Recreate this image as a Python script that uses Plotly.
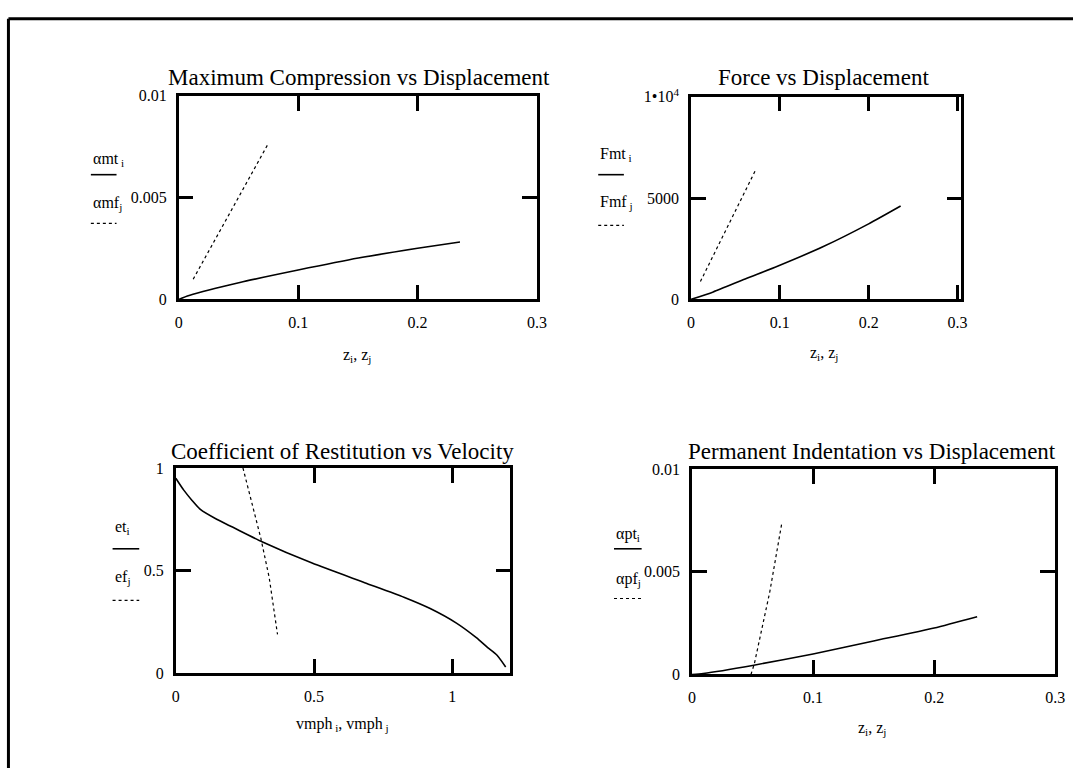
import plotly.graph_objects as go

W, H = 1083, 777

# ---- data ----
# Panel 1: Maximum Compression vs Displacement
amt_z = [0, 0.0087, 0.0512, 0.1, 0.1504, 0.2, 0.2355]
amt_v = [0, 0.00019, 0.00083, 0.00144, 0.00203, 0.00251, 0.00282]
amf_z = [0.0121, 0.0745]
amf_v = [0.00099, 0.0076]

# Panel 2: Force vs Displacement
fmt_z = [0, 0.025, 0.061, 0.098, 0.149, 0.2, 0.236]
fmt_v = [0, 370, 1008, 1648, 2608, 3728, 4608]
fmf_z = [0.0106, 0.0722]
fmf_v = [880, 6337]

# Panel 3: Coefficient of Restitution vs Velocity
et_v = [0, 0.005, 0.029, 0.059, 0.089, 0.148, 0.207, 0.314, 0.493, 0.683, 0.825, 0.92, 1.015, 1.087, 1.128, 1.161, 1.193]
et_e = [0.95, 0.94, 0.892, 0.842, 0.798, 0.75, 0.711, 0.64, 0.537, 0.442, 0.371, 0.316, 0.245, 0.174, 0.126, 0.09, 0.032]
ef_v = [0.243, 0.279, 0.308, 0.338, 0.368]
ef_e = [1.0, 0.814, 0.656, 0.466, 0.19]

# Panel 4: Permanent Indentation vs Displacement
apt_z = [0, 0.0093, 0.05, 0.1, 0.15, 0.2, 0.2355]
apt_v = [0, 0.00005, 0.00044, 0.001, 0.00163, 0.00226, 0.00281]
apf_z = [0.0487, 0.0515, 0.0642, 0.074]
apf_v = [0, 0.00052, 0.004, 0.0073]

titles = ["Maximum Compression vs Displacement", "Force vs Displacement",
          "Coefficient of Restitution vs Velocity", "Permanent Indentation vs Displacement"]

FONT = "Liberation Serif"


def px(x):
    return x / W


def py(y):
    return 1 - y / H


fig = go.Figure()

panels = [
    # (axis suffix, box in pixels [left, right, top, bottom])
    ("", (177, 540, 87, 296)),
    ("2", (696, 970, 88, 296)),
    ("3", (174, 513, 469, 680)),
    ("4", (697, 1065, 470, 681)),
]

series = [
    (amt_z, amt_v, amf_z, amf_v),
    (fmt_z, fmt_v, fmf_z, fmf_v),
    (et_v, et_e, ef_v, ef_e),
    (apt_z, apt_v, apf_z, apf_v),
]

for (sid, _), (x1, y1, x2, y2) in zip(panels, series):
    fig.add_trace(go.Scatter(x=x1, y=y1, mode="lines", xaxis="x" + sid, yaxis="y" + sid,
                             line=dict(color="black", width=1.6, shape="spline", smoothing=0.6),
                             showlegend=False))
    fig.add_trace(go.Scatter(x=x2, y=y2, mode="lines", xaxis="x" + sid, yaxis="y" + sid,
                             line=dict(color="black", width=1.2, dash="dot"), showlegend=False))

xranges = [[0, 0.3], [0, 0.3045], [0, 1.21], [0, 0.3]]
xticks = [[0, 0.1, 0.2, 0.3], [0, 0.1, 0.2, 0.3], [0, 0.5, 1], [0, 0.1, 0.2, 0.3]]
xtext = [["0", "0.1", "0.2", "0.3"], ["0", "0.1", "0.2", "0.3"], ["0", "0.5", "1"], ["0", "0.1", "0.2", "0.3"]]
yranges = [[0, 0.01], [0, 10000], [0, 1], [0, 0.01]]
yticks = [[0, 0.005, 0.01], [0, 5000, 10000], [0, 0.5, 1], [0, 0.005, 0.01]]
ytext = [["0", "0.005", "0.01"], ["0", "5000", "1\u202210<sup>4</sup>"], ["0", "0.5", "1"], ["0", "0.005", "0.01"]]

axcommon = dict(showline=True, linecolor="black", linewidth=2.5, mirror="ticks",
                ticks="inside", ticklen=15, tickwidth=2.5, tickcolor="black",
                showgrid=False, zeroline=False, fixedrange=True,
                tickfont=dict(family=FONT, size=16, color="black"))

layout = {}
for k, (sid, (l, r, t, b)) in enumerate(panels):
    layout["xaxis" + sid] = dict(domain=[px(l), px(r)], range=xranges[k], anchor="y" + sid,
                                 tickmode="array", tickvals=xticks[k], ticktext=xtext[k],
                                 ticklabelstandoff=7, **axcommon)
    layout["yaxis" + sid] = dict(domain=[py(b), py(t)], range=yranges[k], anchor="x" + sid,
                                 tickmode="array", tickvals=yticks[k], ticktext=ytext[k],
                                 ticklabelstandoff=6, **axcommon)

fig.update_layout(**layout)

ann = []
# titles
title_pos = [(360, 68), (830, 68), (343, 452), (879, 452)]
for t, (x, y) in zip(titles, title_pos):
    ann.append(dict(text=t, x=px(x), y=py(y), xref="paper", yref="paper", showarrow=False,
                    xanchor="center", yanchor="middle", font=dict(family=FONT, size=23, color="black")))

# x-axis titles
xlab = [("z<sub>i</sub>, z<sub>j</sub>", 358, 354),
        ("z<sub>i</sub>, z<sub>j</sub>", 831, 352),
        ("vmph<sub> i</sub>, vmph<sub> j</sub>", 343, 732),
        ("z<sub>i</sub>, z<sub>j</sub>", 879, 736)]
for t, x, y in xlab:
    ann.append(dict(text=t, x=px(x), y=py(y), xref="paper", yref="paper", showarrow=False,
                    xanchor="center", yanchor="middle", font=dict(family=FONT, size=16, color="black")))

# y-axis stacked labels with line-style keys
ylab = [
    ("\u03b1mt<sub> i</sub>", "\u03b1mf<sub>j</sub>", 88, 152, 198, 168, 218, 114),
    ("Fmt<sub> i</sub>", "Fmf<sub> j</sub>", 602, 147, 197, 168, 220, 628),
    ("et<sub>i</sub>", "ef<sub>j</sub>", 110, 530, 581, 552, 605, 137),
    ("\u03b1pt<sub>i</sub>", "\u03b1pf<sub>j</sub>", 618, 537, 584, 552, 603, 646),
]
shapes = []
for t1, t2, x0, ya, yb, l1, l2, x1 in ylab:
    for t, y in ((t1, ya), (t2, yb)):
        ann.append(dict(text=t, x=px(x0), y=py(y), xref="paper", yref="paper", showarrow=False,
                        xanchor="left", yanchor="middle", font=dict(family=FONT, size=16, color="black")))
    shapes.append(dict(type="line", xref="paper", yref="paper", x0=px(x0), x1=px(x1),
                       y0=py(l1), y1=py(l1), line=dict(color="black", width=1.6)))
    shapes.append(dict(type="line", xref="paper", yref="paper", x0=px(x0), x1=px(x1),
                       y0=py(l2), y1=py(l2), line=dict(color="black", width=1.2, dash="dot")))

# outer frame (left and top edges visible)
shapes.append(dict(type="line", xref="paper", yref="paper", x0=px(4.5), x1=px(4.5), y0=py(8), y1=0,
                   line=dict(color="black", width=3)))
shapes.append(dict(type="line", xref="paper", yref="paper", x0=px(4.5), x1=1, y0=py(8), y1=py(8),
                   line=dict(color="black", width=3)))

fig.update_layout(autosize=True, margin=dict(l=0, r=0, t=0, b=0, pad=0),
                  paper_bgcolor="white", plot_bgcolor="white", annotations=ann, shapes=shapes,
                  showlegend=False, font=dict(family=FONT, color="black"))

post = ("document.documentElement.style.margin='0';document.body.style.margin='0';"
        "document.body.style.padding='0';document.body.style.overflow='hidden';"
        "var gd=document.getElementById('{plot_id}');gd.style.position='fixed';"
        "gd.style.left='0px';gd.style.top='0px';gd.style.width='100vw';gd.style.height='100vh';"
        "Plotly.Plots.resize(gd);")

fig.write_html("out.html", post_script=post, default_width="100vw", default_height="100vh",
               config={"displayModeBar": False, "responsive": True})
